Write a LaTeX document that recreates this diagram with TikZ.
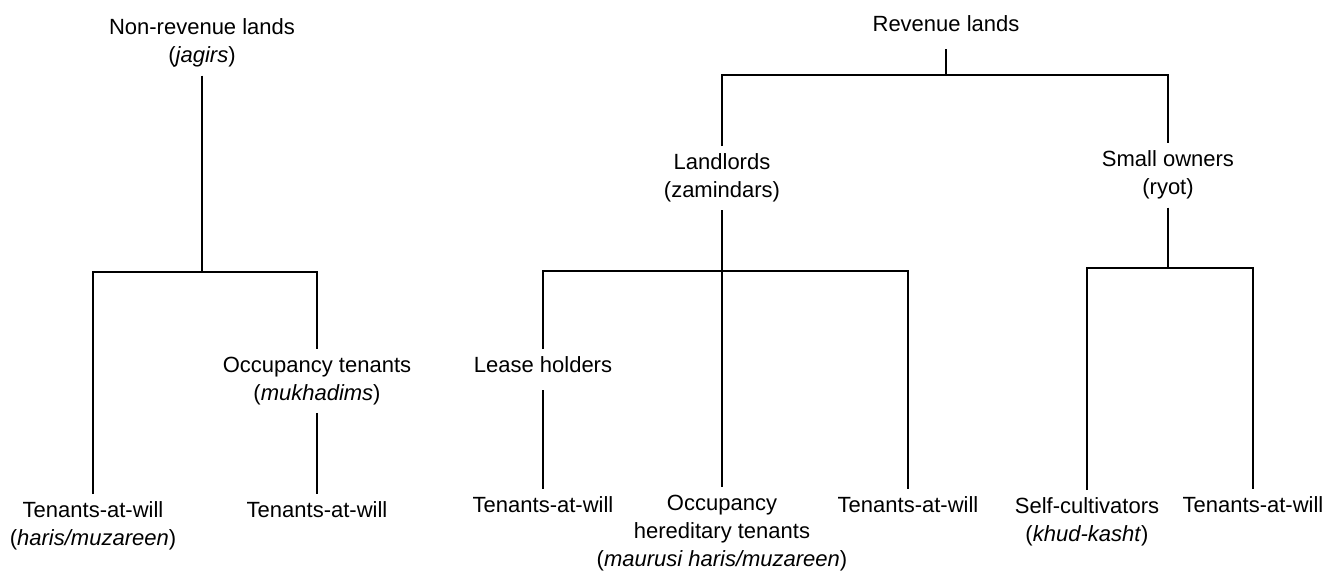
\documentclass[tikz,border=0pt]{standalone}
\usepackage{fontspec}
\setmainfont{Liberation Sans}
\begin{document}
\begin{tikzpicture}[x=0.5pt,y=-0.5pt,
  lbl/.style={anchor=north,align=center,inner sep=0pt,outer sep=4pt,
    font=\fontsize{11}{14}\selectfont},
  conn/.style={line width=1.25pt,line cap=butt,line join=miter}]
\useasboundingbox (0,0) rectangle (1339,573);
% nodes
\node[lbl] (nonrev) at (202,11) {Non-revenue lands\\(\textit{jagirs})};
\node[lbl] (rev) at (946,8) {Revenue lands};
\node[lbl] (land) at (722,146) {Landlords\\(zamindars)};
\node[lbl] (small) at (1168,143) {Small owners\\(ryot)};
\node[lbl] (occ) at (317,349) {Occupancy tenants\\(\textit{mukhadims})};
\node[lbl] (lease) at (543,349) {Lease holders};
\node[lbl] (t1) at (93,494) {Tenants-at-will\\(\textit{haris/muzareen})};
\node[lbl] (t2) at (317,494) {Tenants-at-will};
\node[lbl] (t3) at (543,489) {Tenants-at-will};
\node[lbl] (occh) at (722,487) {Occupancy\\hereditary tenants\\(\textit{maurusi haris/muzareen})};
\node[lbl] (t4) at (908,489) {Tenants-at-will};
\node[lbl] (sc) at (1087,490) {Self-cultivators\\(\textit{khud-kasht})};
\node[lbl] (t5) at (1253,489) {Tenants-at-will};
% junctions
\coordinate (j1) at (202,272);
\coordinate (jr) at (948,75);
\coordinate (jl) at (722,271);
\coordinate (js) at (1168,268);
% connectors: non-revenue tree
\draw[conn] (nonrev.south) -- (j1);
\draw[conn] (t1.north) -- (t1.north |- j1) -- (occ.north |- j1) -- (occ.north);
\draw[conn] (occ.south) -- (t2.north);
% revenue tree
\draw[conn,shorten <=4.5pt] (rev.south) -- (rev.south |- jr);
\draw[conn] (land.north) -- (land.north |- jr) -- (small.north |- jr) -- (small.north);
\draw[conn] (land.south) -- (occh.north);
\draw[conn] (lease.north) -- (lease.north |- jl) -- (t4.north |- jl) -- (t4.north);
\draw[conn,shorten <=4.5pt] (lease.south) -- (t3.north);
\draw[conn] (small.south) -- (js);
\draw[conn] (sc.north) -- (sc.north |- js) -- (t5.north |- js) -- (t5.north);
\end{tikzpicture}
\end{document}
